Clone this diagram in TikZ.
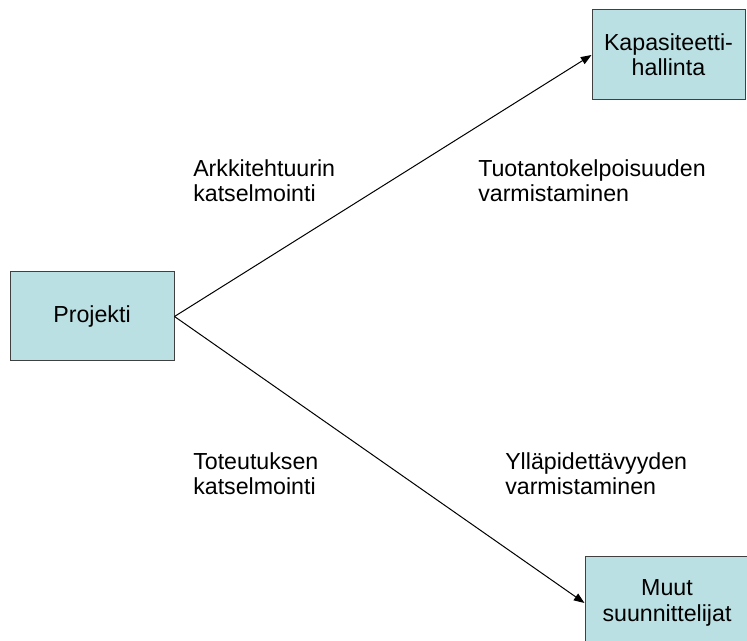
\documentclass[tikz,border=0pt]{standalone}
\usepackage{fontspec}
\setmainfont{Liberation Sans}
\usetikzlibrary{arrows.meta}
\definecolor{boxfill}{HTML}{BBE0E3}
\definecolor{boxline}{HTML}{404040}
\begin{document}
\begin{tikzpicture}[x=0.75pt,y=-0.75pt,
  box/.style={draw=boxline, line width=0.75pt, fill=boxfill, align=center, inner sep=0pt, font=\fontsize{17.4}{19}\selectfont},
  lbl/.style={anchor=base west, align=left, inner sep=0pt, font=\fontsize{17.4}{19}\selectfont},
  conn/.style={line width=0.75pt, -{Triangle[length=8pt,width=6pt]}}]
\clip (0,0) rectangle (747,641);
\fill[white] (0,0) rectangle (747,641);
\node[box, minimum width=123pt, minimum height=66.75pt] (proj) at (92,316.5) {Projekti};
\node[box, minimum width=114.75pt, minimum height=67.5pt] (kap) at (668.5,55) {Kapasiteetti-\\hallinta};
\node[box, minimum width=123pt, minimum height=69pt] (muut) at (667,603) {Muut\\suunnittelijat};
\draw[conn] (proj.east) -- (kap.west);
\draw[conn] (proj.east) -- (muut.west);
\node[lbl] (l1) at (193,202) {Arkkitehtuurin\\katselmointi};
\node[lbl] (l2) at (478,202) {Tuotantokelpoisuuden\\varmistaminen};
\node[lbl] (l3) at (193,495) {Toteutuksen\\katselmointi};
\node[lbl] (l4) at (505,495) {Ylläpidettävyyden\\varmistaminen};
\end{tikzpicture}
\end{document}
